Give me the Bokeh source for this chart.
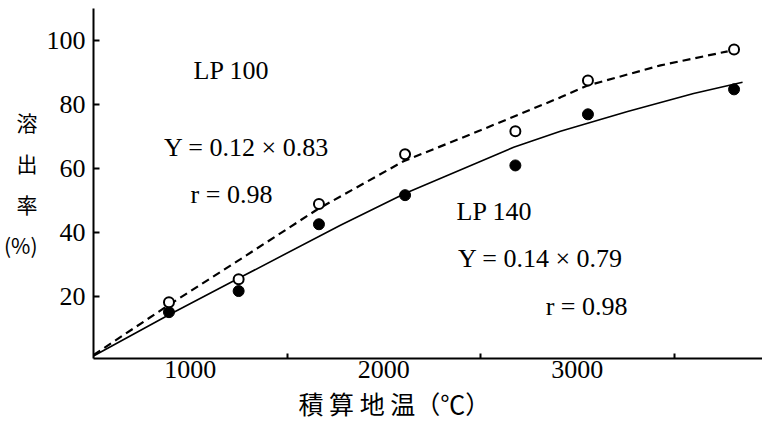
from bokeh.plotting import figure
from bokeh.models import Range1d, FixedTicker, Label, ColumnDataSource, Title
from bokeh.embed import file_html
from bokeh.resources import INLINE

# ---- data ----
temp_points = [890, 1250, 1665, 2110, 2680, 3055, 3810]
rate_lp100 = [18.1, 25.3, 48.8, 64.4, 71.6, 87.5, 97.2]
rate_lp140 = [15.0, 21.6, 42.5, 51.6, 60.9, 76.9, 84.7]

curve100_x = [500, 888, 1260, 1658, 2102, 2500, 2913, 3053, 3430, 3777]
curve100_y = [1.6, 17.2, 31.6, 47.2, 62.2, 71.9, 82.2, 85.9, 92.2, 96.6]
curve140_x = [500, 888, 1260, 1776, 2112, 2671, 2913, 3260, 3601, 3854]
curve140_y = [1.3, 14.1, 25.9, 42.2, 52.2, 66.6, 71.6, 77.8, 83.4, 86.9]

x_ticks = [1000, 2000, 3000]
x_minor = [1500, 2500, 3500]
y_ticks = [20, 40, 60, 80, 100]

SERIF = "Liberation Serif"
CJK = "Noto Sans CJK JP"

p = figure(width=762, height=426, output_backend="svg", toolbar_location=None,
           x_range=Range1d(500, 3957), y_range=Range1d(0.5, 110),
           min_border_left=93, min_border_right=0, min_border_top=8,
           min_border_bottom=68)
p.outline_line_color = None
p.xgrid.visible = False
p.ygrid.visible = False

# curves
p.line(curve100_x, curve100_y, line_color="black", line_width=2.2, line_dash="8 5")
p.line(curve140_x, curve140_y, line_color="black", line_width=1.6)

# points
src = ColumnDataSource(dict(t=temp_points, a=rate_lp100, b=rate_lp140))
p.scatter("t", "b", source=src, marker="circle", size=11, fill_color="black",
          line_color="black", line_width=1)
p.scatter("t", "a", source=src, marker="circle", size=10, fill_color="white",
          line_color="black", line_width=2)

# axes
for ax in (p.xaxis[0], p.yaxis[0]):
    ax.axis_line_width = 2
    ax.axis_line_color = "black"
    ax.major_label_text_font = SERIF
    ax.major_label_text_font_size = "26px"
    ax.major_label_text_color = "black"
    ax.major_tick_out = 0

p.xaxis[0].ticker = FixedTicker(ticks=x_ticks, minor_ticks=x_minor)
p.xaxis[0].major_tick_line_color = None
p.xaxis[0].minor_tick_in = 5
p.xaxis[0].minor_tick_out = 0
p.xaxis[0].minor_tick_line_width = 2
p.xaxis[0].major_label_standoff = 2

p.yaxis[0].ticker = FixedTicker(ticks=y_ticks, minor_ticks=[])
p.yaxis[0].major_tick_in = 6
p.yaxis[0].major_tick_line_width = 2
p.yaxis[0].major_label_standoff = 8
p.yaxis[0].axis_label = "溶\n出\n率\n(%)"
p.yaxis[0].axis_label_orientation = "horizontal"
p.yaxis[0].axis_label_text_font = CJK
p.yaxis[0].axis_label_text_font_size = "21px"
p.yaxis[0].axis_label_text_font_style = "normal"
p.yaxis[0].axis_label_text_color = "black"
p.yaxis[0].axis_label_text_line_height = 1.36
p.yaxis[0].axis_label_standoff = 6

p.add_layout(Title(text="積 算 地 温（℃）", align="left", offset=205,
                   text_font=CJK, text_font_size="25px", text_font_style="normal",
                   text_color="black", standoff=5), "below")

# annotations
def lab(x, y, text, font=SERIF, size="26px"):
    p.add_layout(Label(x=x, y=y, text=text, text_font=font, text_font_size=size,
                       text_align="center", text_baseline="middle",
                       text_color="black"))

lab(1213, 90.6, "LP 100")
lab(1291, 66.6, "Y = 0.12 × 0.83")
lab(1213, 51.9, "r = 0.98")
lab(2572, 46.6, "LP 140")
lab(2810, 31.9, "Y = 0.14 × 0.79")
lab(3048, 16.9, "r = 0.98")

open("out.html", "w").write(file_html(p, INLINE))
